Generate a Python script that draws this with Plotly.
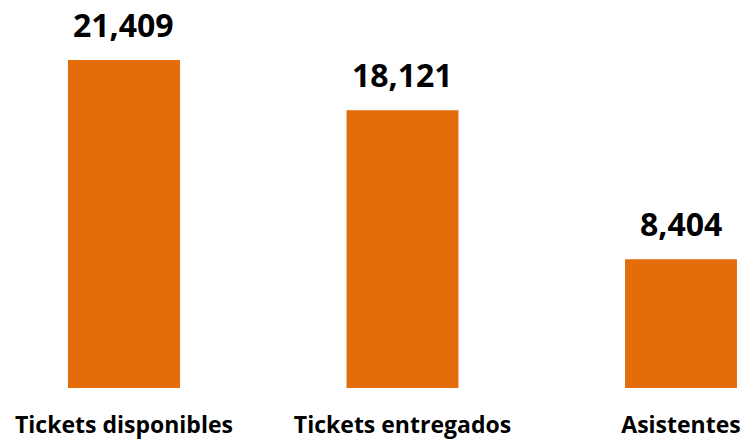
import plotly.graph_objects as go

categories = ["Tickets disponibles", "Tickets entregados", "Asistentes"]
values = [21409, 18121, 8404]

bar_color = "#E46C0A"
font_family = "Open Sans"

fig = go.Figure(
    go.Bar(
        x=categories,
        y=values,
        marker=dict(color=bar_color, line=dict(width=0)),
        width=0.402,
        hoverinfo="skip",
    )
)

# value labels above each bar
for cat, val in zip(categories, values):
    fig.add_annotation(
        x=cat,
        y=val,
        text=f"<b>{val:,}</b>",
        showarrow=False,
        yanchor="bottom",
        yshift=12,
        font=dict(family=font_family, size=32, color="#000000"),
    )

fig.update_layout(
    width=745,
    height=440,
    margin=dict(l=0, r=0, t=0, b=52),
    paper_bgcolor="white",
    plot_bgcolor="white",
    showlegend=False,
    xaxis=dict(
        type="category",
        range=[-0.4452, 2.2298],
        showgrid=False,
        zeroline=False,
        showline=False,
        ticks="",
        tickfont=dict(family=font_family, size=23, color="#000000"),
        ticklabelstandoff=21,
    ),
    yaxis=dict(
        range=[0, 25325],
        visible=False,
        showgrid=False,
        zeroline=False,
    ),
)
fig.update_xaxes(ticktext=[f"<b>{c}</b>" for c in categories], tickvals=categories)

fig.write_html("out.html")
